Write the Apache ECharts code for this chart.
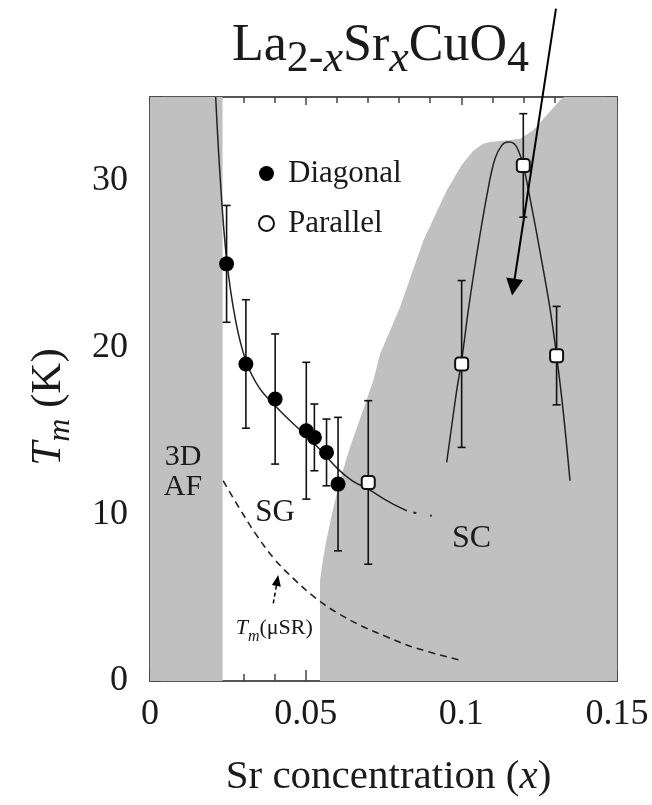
<!DOCTYPE html>
<html><head><meta charset="utf-8">
<script src="https://cdn.jsdelivr.net/npm/echarts@6/dist/echarts.min.js"></script>
<style>html,body{margin:0;padding:0;background:#fff}#c{width:652px;height:805px}</style>
</head><body><div id="c"></div>
<script>
// ---------------- data ----------------
const xTickLabels = ['0', '0.05', '0.1', '0.15'];
const yTickLabels = ['0', '10', '20', '30'];

const diagonalX   = [0.0246, 0.0308, 0.0402, 0.0502, 0.0528, 0.0567, 0.0604];
const diagonalY   = [25.0, 19.0, 16.9, 15.0, 14.6, 13.7, 11.8];
const diagonalErr = [3.5, 3.85, 3.9, 4.1, 2.0, 2.0, 4.0];

const parallelX   = [0.0701, 0.1001, 0.1199, 0.1306];
const parallelY   = [11.9, 19.0, 30.9, 19.5];
const parallelErr = [4.9, 5.0, 3.1, 2.95];

// guide curve through the "Diagonal" points
const diagCurveX = [0.0211, 0.0226, 0.0246, 0.0275, 0.0308, 0.0350, 0.0402, 0.0450, 0.0502, 0.0550, 0.0604, 0.0650, 0.0701, 0.0771, 0.0825];
const diagCurveY = [35.0, 30.0, 25.3, 21.6, 19.2, 17.6, 16.5, 15.6, 14.7, 13.8, 12.7, 12.0, 11.5, 10.7, 10.2];
const diagTailX  = [0.0846, 0.0905];
const diagTailY  = [10.1, 9.9];

// guide curve through the "Parallel" points
const paraCurveX = [0.0953, 0.0985, 0.1001, 0.1023, 0.1049, 0.1084, 0.1108, 0.1130, 0.1150, 0.1170, 0.1185, 0.1199, 0.1221, 0.1253, 0.1285, 0.1306, 0.1327, 0.1349];
const paraCurveY = [13.1, 17.4, 19.2, 22.3, 25.5, 29.3, 31.3, 32.1, 32.3, 32.2, 31.7, 30.9, 28.9, 25.7, 22.3, 19.5, 16.2, 12.0];

// Tm(muSR) dashed curve
const musrX = [0.0235, 0.0289, 0.0340, 0.0400, 0.0460, 0.0530, 0.0600, 0.0680, 0.0760, 0.0850, 0.0996];
const musrY = [12.0, 10.3, 8.8, 7.3, 6.15, 5.0, 4.1, 3.3, 2.65, 2.0, 1.25];

// phase regions
const afRegionX = [0, 0.0233];
const afRegionY = [35, 35];
const scRegionX = [0.0546, 0.0546, 0.0555, 0.0562, 0.0584, 0.0610, 0.0642, 0.0680, 0.0717, 0.0739, 0.0803, 0.0878, 0.0953, 0.1000, 0.1039, 0.1070, 0.1092, 0.1140, 0.1189, 0.1231, 0.1274, 0.1317, 0.1330, 0.15];
const scRegionY = [0, 6.0, 7.2, 8.0, 10.0, 12.0, 14.0, 16.0, 18.0, 19.6, 22.4, 26.4, 29.4, 30.9, 31.8, 32.2, 32.3, 32.4, 32.5, 33.0, 33.9, 34.8, 35, 35];

// annotations (data coordinates)
const labelTexts = ['3D', 'AF', 'SG', 'SC', '{t|T}{m|m}{n|(\u03bcSR)}'];
const labelX = [0.0106, 0.0106, 0.0402, 0.1033, 0.0399];
const labelY = [13.4, 11.6, 10.1, 8.55, 3.15];

const arrowFromX = [0.1304, 0.0396];
const arrowFromY = [40.3, 4.65];
const arrowToX   = [0.1163, 0.0412];
const arrowToY   = [23.1, 6.35];

// ---------------- chart ----------------
const FONT = '"Liberation Serif", "Times New Roman", serif';
const INK = '#1a1a1a';
const GRAY = '#c0c0c0';
const zip = (a, b) => a.map((v, i) => [v, b[i]]);
const zip3 = (a, b, c) => a.map((v, i) => [v, b[i], c[i]]);

function errRender(params, api) {
  const x = api.value(0), y = api.value(1), e = api.value(2);
  const t = api.coord([x, y + e]), b = api.coord([x, y - e]);
  const w = 4;
  const st = { stroke: '#111', lineWidth: 1.6 };
  return { type: 'group', children: [
    { type: 'line', shape: { x1: t[0], y1: t[1], x2: b[0], y2: b[1] }, style: st },
    { type: 'line', shape: { x1: t[0] - w, y1: t[1], x2: t[0] + w, y2: t[1] }, style: st },
    { type: 'line', shape: { x1: b[0] - w, y1: b[1], x2: b[0] + w, y2: b[1] }, style: st }
  ]};
}

const labelStyles = [
  { fontSize: 30 }, { fontSize: 30 }, { fontSize: 31 }, { fontSize: 32 }, { fontSize: 22 }
];
function labelRender(params, api) {
  const i = params.dataIndex;
  const p = api.coord([api.value(0), api.value(1)]);
  return {
    type: 'text', x: p[0], y: p[1],
    style: {
      text: labelTexts[i], fontFamily: FONT, fontSize: labelStyles[i].fontSize, fill: INK,
      align: 'center', verticalAlign: 'middle',
      rich: {
        t: { fontFamily: FONT, fontStyle: 'italic', fontSize: 22, lineHeight: 22, verticalAlign: 'top', fill: INK },
        m: { fontFamily: FONT, fontStyle: 'italic', fontSize: 16, lineHeight: 16, padding: [11, 0, 0, 0], verticalAlign: 'top', fill: INK },
        n: { fontFamily: FONT, fontSize: 22, lineHeight: 22, verticalAlign: 'top', fill: INK }
      }
    }
  };
}

const arrowStyles = [
  { lw: 2, len: 17, wid: 17, dash: null },
  { lw: 1.5, len: 11, wid: 9, dash: [4, 3] }
];
function arrowRender(params, api) {
  const i = params.dataIndex;
  const s = arrowStyles[i];
  const a = api.coord([api.value(0), api.value(1)]);
  const b = api.coord([api.value(2), api.value(3)]);
  const dx = b[0] - a[0], dy = b[1] - a[1];
  const L = Math.sqrt(dx * dx + dy * dy);
  const ux = dx / L, uy = dy / L;
  const bx = b[0] - ux * s.len, by = b[1] - uy * s.len;
  const px = -uy * s.wid / 2, py = ux * s.wid / 2;
  return { type: 'group', children: [
    { type: 'line', shape: { x1: a[0], y1: a[1], x2: bx + ux * 2, y2: by + uy * 2 },
      style: { stroke: '#000', lineWidth: s.lw, lineDash: s.dash } },
    { type: 'polygon', shape: { points: [[b[0], b[1]], [bx + px, by + py], [bx - px, by - py]] },
      style: { fill: '#000' } }
  ]};
}

const axisLineStyle = { color: '#555', width: 2 };
const tickStyle = { color: '#444', width: 1.5 };

const option = {
  animation: false,
  backgroundColor: '#fff',
  title: {
    text: '{m|La}{s|2-}{si|x}{m|Sr}{si|x}{m|CuO}{s|4}',
    left: 232, top: 20, padding: 0,
    textStyle: {
      fontFamily: FONT, fontSize: 52, fontWeight: 'normal', color: INK,
      rich: {
        m: { fontFamily: FONT, fontSize: 52, lineHeight: 52, verticalAlign: 'top', color: INK },
        s: { fontFamily: FONT, fontSize: 44, lineHeight: 44, padding: [17, 0, 0, 0], verticalAlign: 'top', color: INK },
        si: { fontFamily: FONT, fontStyle: 'italic', fontSize: 44, lineHeight: 44, padding: [17, 0, 0, 0], verticalAlign: 'top', color: INK }
      }
    }
  },
  legend: {
    orient: 'vertical', left: 258, top: 158, padding: 0,
    itemWidth: 33, itemHeight: 15, itemGap: 19,
    selectedMode: false,
    textStyle: { fontFamily: FONT, fontSize: 31, color: INK, lineHeight: 31 },
    data: [{ name: 'Diagonal', icon: 'circle' }, { name: 'Parallel', icon: 'circle' }]
  },
  grid: { left: 150, right: 35, top: 97, bottom: 124, containLabel: false },
  xAxis: [{
    type: 'value', min: 0, max: 0.15, interval: 0.05, position: 'bottom',
    axisLine: { onZero: false, lineStyle: axisLineStyle },
    axisTick: { inside: true, length: 11, lineStyle: tickStyle },
    minorTick: { show: true, splitNumber: 5, length: 7, lineStyle: tickStyle },
    splitLine: { show: false }, minorSplitLine: { show: false },
    axisLabel: { fontFamily: FONT, fontSize: 36, color: INK, margin: 16,
      formatter: v => xTickLabels[Math.round(v / 0.05)] },
    name: 'Sr concentration ({i|x})', nameLocation: 'middle', nameGap: 76,
    nameTextStyle: { fontFamily: FONT, fontSize: 41, color: INK, padding: [0, 0, 0, 10],
      rich: { i: { fontFamily: FONT, fontStyle: 'italic', fontSize: 41, color: INK } } }
  }, {
    type: 'value', min: 0, max: 0.15, interval: 0.05, position: 'top',
    axisLine: { onZero: false, lineStyle: axisLineStyle },
    axisTick: { inside: true, length: 8, lineStyle: tickStyle },
    minorTick: { show: true, splitNumber: 5, length: 6, lineStyle: tickStyle },
    splitLine: { show: false }, axisLabel: { show: false }
  }],
  yAxis: [{
    type: 'value', min: 0, max: 35, interval: 5, position: 'left',
    axisLine: { onZero: false, lineStyle: axisLineStyle },
    axisTick: { inside: true, length: 12, lineStyle: tickStyle },
    splitLine: { show: false },
    axisLabel: { fontFamily: FONT, fontSize: 36, color: INK, margin: 22,
      formatter: v => (v % 10 === 0 && yTickLabels.indexOf(String(v)) >= 0) ? yTickLabels[v / 10] : '' },
    name: '{t|T}{m|m}{n| (K)}', nameLocation: 'middle', nameGap: 80,
    nameTextStyle: { fontFamily: FONT, fontSize: 43, color: INK, padding: [0, 36, 0, 0],
      rich: {
        t: { fontFamily: FONT, fontStyle: 'italic', fontSize: 43, lineHeight: 43, verticalAlign: 'top', color: INK },
        m: { fontFamily: FONT, fontStyle: 'italic', fontSize: 32, lineHeight: 32, padding: [18, 0, 0, 0], verticalAlign: 'top', color: INK },
        n: { fontFamily: FONT, fontSize: 43, lineHeight: 43, verticalAlign: 'top', color: INK }
      } }
  }, {
    type: 'value', min: 0, max: 35, interval: 5, position: 'right',
    axisLine: { onZero: false, lineStyle: axisLineStyle },
    axisTick: { inside: true, length: 10, lineStyle: tickStyle },
    splitLine: { show: false }, axisLabel: { show: false }
  }],
  series: [
    { name: 'AF region', type: 'line', data: zip(afRegionX, afRegionY), symbol: 'none', silent: true,
      lineStyle: { width: 0 }, areaStyle: { color: GRAY, opacity: 1 }, z: 1 },
    { name: 'SC region', type: 'line', data: zip(scRegionX, scRegionY), symbol: 'none', silent: true,
      lineStyle: { width: 0 }, areaStyle: { color: GRAY, opacity: 1 }, z: 1 },
    { name: 'diag curve', type: 'line', data: zip(diagCurveX, diagCurveY), symbol: 'none', smooth: 0.4, silent: true,
      lineStyle: { color: '#222', width: 1.5 }, z: 3 },
    { name: 'diag tail', type: 'line', data: zip(diagTailX, diagTailY), symbol: 'none', silent: true,
      lineStyle: { color: '#222', width: 2, type: [3, 14] }, z: 3 },
    { name: 'para curve', type: 'line', data: zip(paraCurveX, paraCurveY), symbol: 'none', smooth: 0.4, silent: true,
      lineStyle: { color: '#222', width: 1.5 }, z: 3 },
    { name: 'musr', type: 'line', data: zip(musrX, musrY), symbol: 'none', smooth: 0.4, silent: true,
      lineStyle: { color: '#222', width: 1.6, type: [7, 5] }, z: 3 },
    { name: 'diag err', type: 'custom', renderItem: errRender, data: zip3(diagonalX, diagonalY, diagonalErr), silent: true, z: 4 },
    { name: 'para err', type: 'custom', renderItem: errRender, data: zip3(parallelX, parallelY, parallelErr), silent: true, z: 4 },
    { name: 'Diagonal', type: 'scatter', data: zip(diagonalX, diagonalY), symbol: 'circle', symbolSize: 15, silent: true,
      itemStyle: { color: '#000', opacity: 1 }, z: 5 },
    { name: 'Parallel', type: 'scatter', data: zip(parallelX, parallelY), symbol: 'roundRect', symbolSize: 13, silent: true,
      itemStyle: { color: '#fff', borderColor: '#111', borderWidth: 2, opacity: 1 }, z: 5 },
    { name: 'labels', type: 'custom', renderItem: labelRender, data: zip(labelX, labelY), silent: true, z: 6 },
    { name: 'arrows', type: 'custom', renderItem: arrowRender, clip: false,
      data: arrowFromX.map((v, i) => [v, arrowFromY[i], arrowToX[i], arrowToY[i]]), silent: true, z: 7 }
  ]
};

const chart = echarts.init(document.getElementById('c'), null, { renderer: 'canvas' });
chart.setOption(option);
</script>
</body></html>
